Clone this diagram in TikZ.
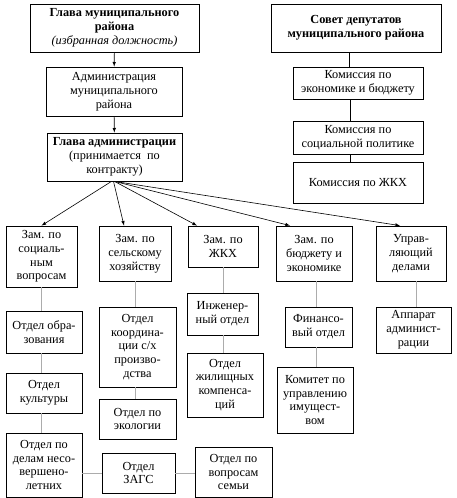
\documentclass[tikz,border=0pt]{standalone}
\usepackage{fontspec}
\setmainfont{Liberation Serif}
\usepackage{tikz}
\usetikzlibrary{arrows}

\begin{document}
\begin{tikzpicture}[x=1pt,y=-1pt,>=latex,
	box/.style={draw,line width=0.8pt,align=center,inner sep=1pt,font=\fontsize{12.3}{13.8}\selectfont},
	grayline/.style={draw=gray!65,line width=0.9pt},
	arr/.style={->,line width=0.6pt}]
	\useasboundingbox (0,0) rectangle (456,498);

	\node[box,minimum width=169pt,minimum height=48pt] (glava) at (114.5,28) {\textbf{Глава муниципального}\\\textbf{района}\\\textit{(избранная должность)}};
	\node[box,minimum width=136pt,minimum height=49pt] (admin) at (114,91.5) {Администрация\\муниципального\\района};
	\node[box,minimum width=135pt,minimum height=48pt] (glavaadm) at (114.5,157) {\textbf{Глава администрации}\\(принимается\ \ по\\контракту)};

	\node[box,minimum width=170pt,minimum height=48pt] (sovet) at (356,28) {\textbf{Совет депутатов}\\\textbf{муниципального района}};
	\node[box,minimum width=130pt,minimum height=32pt] (kom1) at (358,83) {Комиссия по\\экономике и бюджету};
	\node[box,minimum width=130pt,minimum height=33pt] (kom2) at (358,137.5) {Комиссия по\\социальной политике};
	\node[box,minimum width=130pt,minimum height=41pt] (kom3) at (358,182.5) {Комиссия по ЖКХ};

	\node[box,minimum width=71pt,minimum height=61pt] (zsoc) at (41.5,256.5) {Зам. по\\социаль-\\ным\\вопросам};
	\node[box,minimum width=72pt,minimum height=55pt] (zsh) at (135,253.5) {Зам. по\\сельскому\\хозяйству};
	\node[box,minimum width=70pt,minimum height=41pt] (zjkh) at (223,246.5) {Зам. по\\ЖКХ};
	\node[box,minimum width=76pt,minimum height=55pt] (zbud) at (314,253.5) {Зам. по\\бюджету и\\экономике};
	\node[box,minimum width=70pt,minimum height=55pt] (zupr) at (411,253.5) {Управ-\\ляющий\\делами};

	\node[box,minimum width=76pt,minimum height=42pt] (obr) at (44,332) {Отдел обра-\\зования};
	\node[box,minimum width=76pt,minimum height=40pt] (kult) at (44,393) {Отдел\\культуры};
	\node[box,minimum width=76pt,minimum height=64pt] (nesov) at (44,465) {Отдел по\\делам несо-\\вершено-\\летних};
	\node[box,minimum width=73pt,minimum height=40pt] (zags) at (138.5,473) {Отдел\\ЗАГС};
	\node[box,minimum width=77pt,minimum height=50pt] (semya) at (233.5,472) {Отдел по\\вопросам\\семьи};

	\node[box,minimum width=77pt,minimum height=80pt] (koord) at (137.5,347) {Отдел\\координа-\\ции с/х\\произво-\\дства};
	\node[box,minimum width=77pt,minimum height=40pt] (ekol) at (137.5,419) {Отдел по\\экологии};

	\node[box,minimum width=71pt,minimum height=42pt] (inzh) at (222.5,314) {Инженер-\\ный отдел};
	\node[box,minimum width=76pt,minimum height=64pt] (jil) at (225,385) {Отдел\\жилищных\\компенса-\\ций};

	\node[box,minimum width=67pt,minimum height=40pt] (fin) at (318.5,327) {Финансо-\\вый отдел};
	\node[box,minimum width=76pt,minimum height=66pt] (komitet) at (315,400) {Комитет по\\управлению\\имущест-\\вом};

	\node[box,minimum width=75pt,minimum height=46pt] (apparat) at (413.5,330) {Аппарат\\админист-\\рации};

	\draw[arr] (glava) -- (admin);
	\draw[arr] (admin) -- (glavaadm);

	\draw[line width=0.7pt] ([xshift=-7pt]sovet.south) -- ([xshift=-7pt]sovet.south |- kom1.north);
	\draw[line width=0.7pt] ([xshift=-8pt]kom1.south) -- ([xshift=-8pt]kom1.south |- kom2.north);
	\draw[line width=0.7pt] ([xshift=-8pt]kom2.south) -- ([xshift=-8pt]kom2.south |- kom3.north);

	\draw[arr] ([xshift=-3pt]glavaadm.south) -- (zsoc.north);
	\draw[arr] ([xshift=-1pt]glavaadm.south) -- ([xshift=-11pt]zsh.north);
	\draw[arr] (glavaadm.south) -- ([xshift=-26pt]zjkh.north);
	\draw[arr] (glavaadm.south) -- ([xshift=-24pt]zbud.north);
	\draw[arr] (glavaadm.south) -- ([xshift=-11pt]zupr.north);

	\draw[grayline] (zsoc.south) -- (zsoc.south |- obr.north);
	\draw[grayline] (zsoc.south |- obr.south) -- (zsoc.south |- kult.north);
	\draw[grayline] (zsoc.south |- kult.south) -- (zsoc.south |- nesov.north);
	\draw[grayline] (zags.west) -- (zags.west -| nesov.east);
	\draw[grayline] (zags.east) -- (zags.east -| semya.west);

	\draw[grayline] (zsh.south) -- (zsh.south |- koord.north);
	\draw[grayline] (koord.south -| zsh.south) -- (ekol.north -| zsh.south);

	\draw[grayline] (zjkh.south) -- (zjkh.south |- inzh.north);
	\draw[grayline] (inzh.south -| zjkh.south) -- (jil.north -| zjkh.south);

	\draw[grayline] ([xshift=2pt]zbud.south) -- ([xshift=2pt]zbud.south |- fin.north);
	\draw[grayline] ([xshift=2pt]zbud.south |- fin.south) -- ([xshift=2pt]zbud.south |- komitet.north);

	\draw[grayline] ([xshift=5pt]zupr.south) -- ([xshift=5pt]zupr.south |- apparat.north);
\end{tikzpicture}
\end{document}
